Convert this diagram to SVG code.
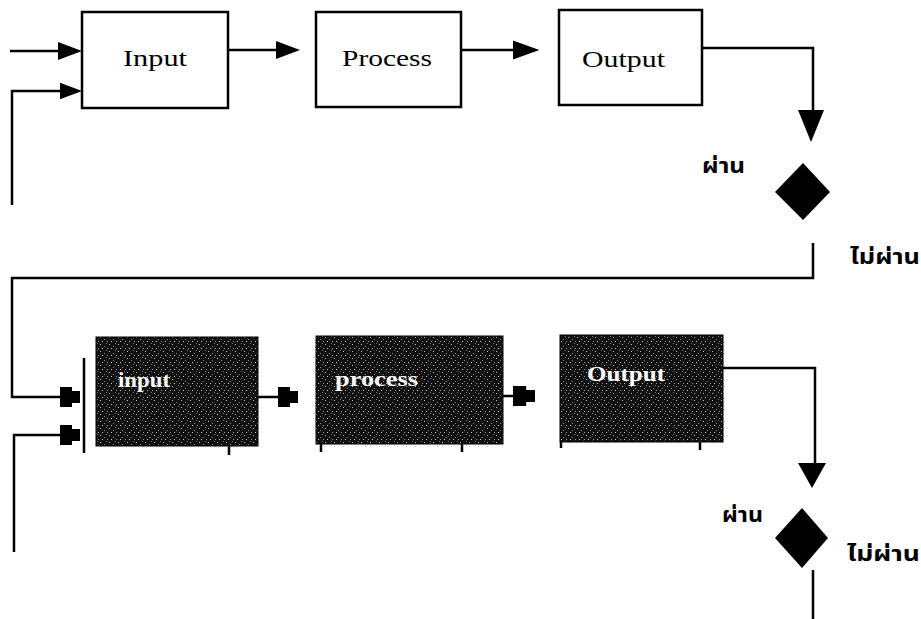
<svg xmlns="http://www.w3.org/2000/svg" width="921" height="619" viewBox="0 0 921 619">
<style>
.ln{fill:none;stroke:#000;stroke-width:2.5}
.box{fill:#fff;stroke:#000;stroke-width:2.5}
.dbox{fill:url(#speck);stroke:#000;stroke-width:1}
.t1{font-family:"Liberation Serif",serif;font-size:23px;fill:#000}
.t2{font-family:"Liberation Serif",serif;font-size:21px;fill:#fff;font-weight:bold}
.th{font-family:"Noto Sans Thai","Noto Sans","DejaVu Sans",sans-serif;font-size:21px;font-weight:bold;fill:#000}
.head{fill:#000}
</style>
<defs>
<pattern id="speck" width="9" height="7" patternUnits="userSpaceOnUse">
<rect width="9" height="7" fill="#111"/>
<rect x="1" y="1" width="1" height="1" fill="#bbb"/>
<rect x="5" y="3" width="1" height="1" fill="#888"/>
<rect x="3" y="5" width="1" height="1" fill="#ccc"/>
<rect x="7" y="0" width="1" height="1" fill="#777"/>
<rect x="8" y="5" width="1" height="1" fill="#999"/>
</pattern>
<path id="plug" d="M0,-10 H12 V-6 H20 V6 H12 V10 H0 Z"/>
<path id="tri" d="M0,-9 L24,0 L0,9 Z"/>
</defs>
<g id="connectors">
<path class="ln" d="M10,51 H60"/>
<use href="#tri" x="58" y="51"/>
<path class="ln" d="M12,205 V91 H62"/>
<use href="#tri" x="60" y="91" transform="translate(60,91) scale(0.92) translate(-60,-91)"/>
<path class="ln" d="M228,50 H278"/>
<use href="#tri" x="276" y="50"/>
<path class="ln" d="M461,50 H514"/>
<use href="#tri" x="513" y="50" transform="translate(513,50) scale(1.1,1.05) translate(-513,-50)"/>
<path class="ln" d="M702,48 H813 V112"/>
<path class="head" d="M798,110 L824,110 L811,142 Z"/>
<path class="ln" d="M813,243 V278 H12 V397 H62"/>
<use href="#plug" x="60" y="397"/>
<path class="ln" d="M14,552 V435 H62"/>
<use href="#plug" x="60" y="435"/>
<path class="ln" d="M84,358 V453"/>
<path class="ln" d="M258,397 H280"/>
<use href="#plug" x="278" y="397"/>
<path class="ln" d="M503,396 H515"/>
<use href="#plug" x="513" y="396" transform="translate(513,396) scale(1.1,1) translate(-513,-396)"/>
<path class="ln" d="M229,446 V455 M321,444 V452 M462,444 V452 M561,442 V448 M700,442 V450"/>
<path class="ln" d="M723,368 H815 V465"/>
<path class="head" d="M798,463 L826,463 L812,488 Z"/>
<path class="ln" d="M813,570 V619"/>
</g>
<g id="input1"><rect class="box" x="82" y="12" width="146" height="96"/><text class="t1" x="123" y="66" textLength="64" lengthAdjust="spacingAndGlyphs">Input</text></g>
<g id="process1"><rect class="box" x="316" y="12" width="145" height="95"/><text class="t1" x="342" y="66" textLength="90" lengthAdjust="spacingAndGlyphs">Process</text></g>
<g id="output1"><rect class="box" x="559" y="10" width="143" height="95"/><text class="t1" x="582" y="67" textLength="83" lengthAdjust="spacingAndGlyphs">Output</text></g>
<g id="decision1"><path class="head" d="M803,163 L830,192 L803,220 L775,192 Z"/>
<text class="th" x="702" y="173" textLength="43" lengthAdjust="spacingAndGlyphs">ผ่าน</text>
<text class="th" x="850" y="264" textLength="70" lengthAdjust="spacingAndGlyphs">ไม่ผ่าน</text></g>
<g id="input2"><rect class="dbox" x="96" y="337" width="162" height="109"/><text class="t2" x="118" y="387" textLength="52" lengthAdjust="spacingAndGlyphs">input</text></g>
<g id="process2"><rect class="dbox" x="316" y="336" width="187" height="108"/><text class="t2" x="335" y="386" textLength="83" lengthAdjust="spacingAndGlyphs">process</text></g>
<g id="output2"><rect class="dbox" x="560" y="335" width="163" height="107"/><text class="t2" x="587" y="381" textLength="78" lengthAdjust="spacingAndGlyphs">Output</text></g>
<g id="decision2"><path class="head" d="M802,508 L828,538 L802,568 L775,538 Z"/>
<text class="th" x="722" y="522" textLength="41" lengthAdjust="spacingAndGlyphs">ผ่าน</text>
<text class="th" x="847" y="561" textLength="73" lengthAdjust="spacingAndGlyphs">ไม่ผ่าน</text></g>
</svg>
